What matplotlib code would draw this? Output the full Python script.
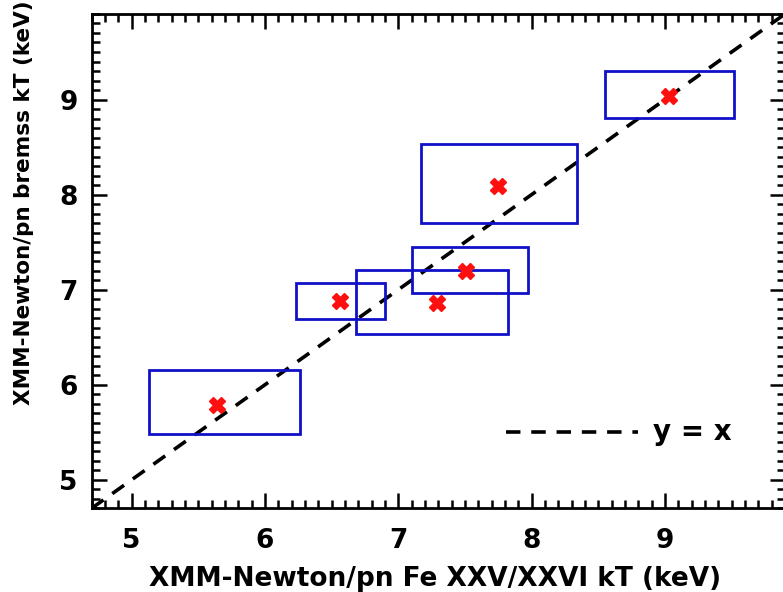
import numpy as np
import matplotlib
matplotlib.use('Agg')
import matplotlib.pyplot as plt
from matplotlib.patches import Rectangle
from matplotlib.ticker import MultipleLocator

# Fe XXV/XXVI line-ratio kT vs. bremsstrahlung kT, with error boxes
fe_kt = [5.64, 6.56, 7.29, 7.51, 7.75, 9.03]
fe_lo = [5.13, 6.23, 6.68, 7.10, 7.17, 8.55]
fe_hi = [6.26, 6.90, 7.82, 7.97, 8.34, 9.52]
br_kt = [5.79, 6.88, 6.86, 7.20, 8.09, 9.04]
br_lo = [5.48, 6.69, 6.53, 6.96, 7.70, 8.81]
br_hi = [6.15, 7.07, 7.21, 7.45, 8.53, 9.30]

plt.rcParams['font.family'] = ['DejaVu Sans']
plt.rcParams['font.weight'] = 'bold'

fig = plt.figure(figsize=(7.83, 5.92), dpi=100)
ax = fig.add_axes([0.1171, 0.1414, 0.8854, 0.835])

lims = (4.7, 9.9)
ax.set_xlim(lims)
ax.set_ylim(lims)

# y = x reference
ax.plot(lims, lims, color='black', lw=2.6, ls=(0, (4, 3)), zorder=2)

for i in range(len(fe_kt)):
    r = Rectangle((fe_lo[i], br_lo[i]), fe_hi[i] - fe_lo[i], br_hi[i] - br_lo[i],
                  fill=False, edgecolor='#1010c8', lw=2.0, zorder=3)
    ax.add_patch(r)
ax.plot(fe_kt, br_kt, ls='none', marker='X', ms=11, color='#ff1010',
        mec='#ff1010', zorder=4)

# legend drawn by hand, IDL style
ax.plot([7.81, 8.80], [5.505, 5.505], color='black', lw=2.6, ls=(0, (4, 3)), zorder=2)
ax.text(8.91, 5.505, 'y = x', fontsize=20, fontweight='bold', va='center', ha='left')

ax.xaxis.set_major_locator(MultipleLocator(1))
ax.xaxis.set_minor_locator(MultipleLocator(0.1))
ax.yaxis.set_major_locator(MultipleLocator(1))
ax.yaxis.set_minor_locator(MultipleLocator(0.1))
ax.tick_params(which='both', direction='in', top=True, right=True, width=1.8)
ax.tick_params(which='major', length=11, labelsize=19)
ax.tick_params(which='minor', length=6)
ax.tick_params(axis='x', pad=14)
ax.tick_params(axis='y', pad=10)
for s in ax.spines.values():
    s.set_linewidth(2)

ax.set_xlabel('XMM-Newton/pn Fe XXV/XXVI kT (keV)', fontsize=19, fontweight='bold')
ax.set_ylabel('XMM-Newton/pn bremss kT (keV)', fontsize=15.5, fontweight='bold')
ax.xaxis.set_label_coords(0.495, -0.117)
ax.yaxis.set_label_coords(-0.083, 0.618)

fig.savefig('out.png', dpi=100)
